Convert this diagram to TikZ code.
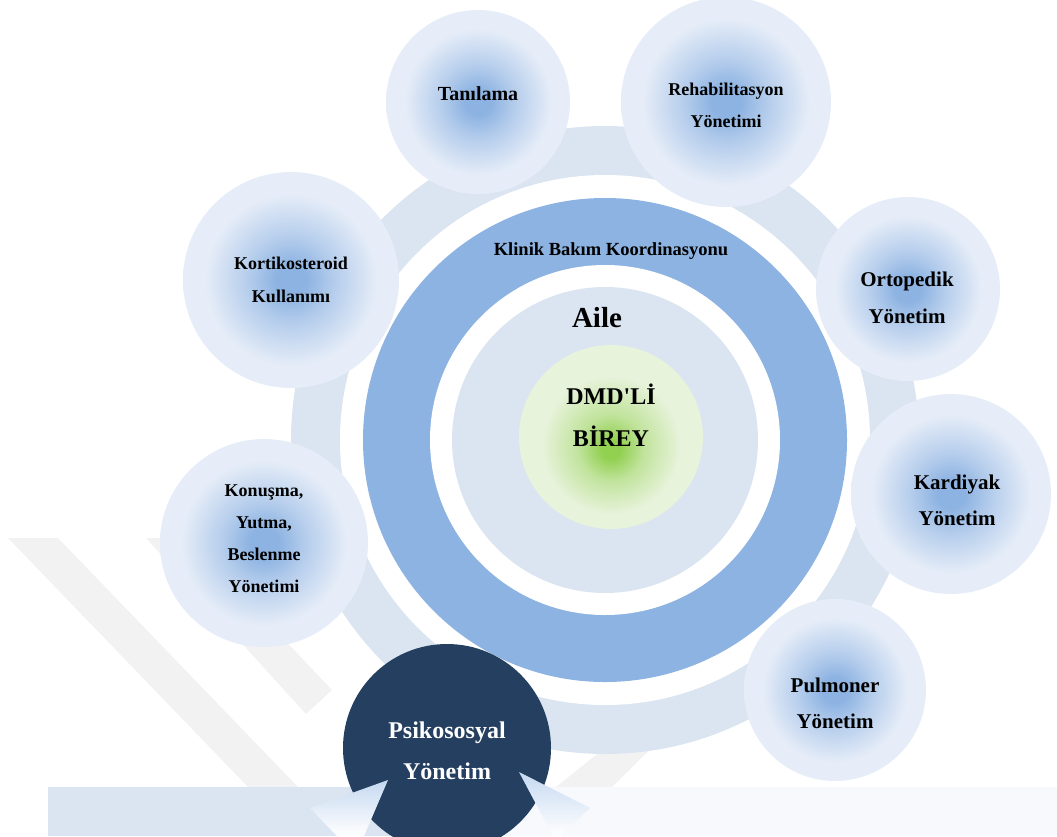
\documentclass[tikz,border=0pt]{standalone}
\usepackage{fontspec}
\setmainfont{Liberation Serif}
\definecolor{ringlight}{HTML}{DBE5F1}
\definecolor{ringblue}{HTML}{8DB3E2}
\definecolor{bubcore}{HTML}{8DB3E2}
\definecolor{bubedge}{HTML}{E6EDF8}
\definecolor{greencore}{HTML}{92D050}
\definecolor{greenedge}{HTML}{E8F3DC}
\definecolor{navy}{HTML}{243F60}
\definecolor{panelright}{HTML}{F7F9FD}
\definecolor{tipblue}{HTML}{C6D9F1}
\definecolor{wmgray}{HTML}{F2F2F2}
\pgfdeclareradialshading{bubble}{\pgfpoint{0bp}{0bp}}{color(0bp)=(bubcore); color(3.5bp)=(bubcore); color(10bp)=(bubcore!55!bubedge); color(20bp)=(bubedge); color(50bp)=(bubedge)}
\pgfdeclareradialshading{birey}{\pgfpoint{0bp}{-3.5bp}}{color(0bp)=(greencore); color(2.5bp)=(greencore); color(9bp)=(greencore!45!greenedge); color(19bp)=(greenedge); color(50bp)=(greenedge)}

\begin{document}
\begin{tikzpicture}[x=1pt, y=-1pt,
    bub/.style={circle, inner sep=0pt, shading=bubble},
    lbl/.style 2 args={align=center, font=\fontsize{#1}{#2}\selectfont\bfseries}]
        \useasboundingbox (0,0) rectangle (1057,836);
        \clip (0,0) rectangle (1057,836);

        \fill[wmgray] (8,538) -- (58,538) -- (298,787) -- (248,787) -- cycle;
        \fill[wmgray] (146,538) -- (188,538) -- (332,690) -- (306,714) -- cycle;
        \fill[wmgray] (556,787) -- (612,787) -- (682,718) -- (642,718) -- cycle;

        \coordinate (cen) at (605,440);
        \fill[ringlight] (cen) circle (314pt);
        \fill[white] (cen) circle (265pt);
        \fill[ringblue] (cen) circle (242pt);
        \fill[white] (cen) circle (175pt);
        \fill[ringlight] (cen) circle (153pt);
        \node[circle, inner sep=0pt, shading=birey, minimum size=184pt] (birey) at (611,437) {};

        \node[bub, minimum size=184pt] (tani) at (478,102) {};
        \node[bub, minimum size=210pt] (rehab) at (726,102) {};
        \node[bub, minimum size=216pt] (korti) at (291,280) {};
        \node[bub, minimum size=184pt] (orto) at (908,289) {};
        \node[bub, minimum size=200pt] (kardi) at (951,494) {};
        \node[bub, minimum size=208pt] (konus) at (264,543) {};
        \node[bub, minimum size=182pt] (pulmo) at (835,690) {};

        \fill[ringlight] (48,787) rectangle (447,836);
        \fill[panelright] (447,787) rectangle (1057,836);
        \node[circle, inner sep=0pt, fill=navy, minimum size=208pt] (psiko) at (447,748) {};
        \shade[top color=tipblue, bottom color=white] (388,780) -- (310,808) -- (337,836) -- (364,836) -- cycle;
        \shade[top color=tipblue, bottom color=white] (519,772) -- (590,808) -- (560,836) -- (553,836) -- cycle;

        \node[lbl={18.5}{22}] (klinik) at (611,251) {Klinik Bakım Koordinasyonu};
        \node[lbl={29}{34}] (aile) at (597,318) {Aile};
        \node[lbl={24}{42}] (bireytxt) at (611,415) {DMD\textquotesingle Lİ\\BİREY};
        \node[lbl={20}{24}] (tanitxt) at (478,94) {Tanılama};
        \node[lbl={18}{32}] (rehabtxt) at (726,105) {Rehabilitasyon\\Yönetimi};
        \node[lbl={18}{33}] (kortitxt) at (291,280) {Kortikosteroid\\Kullanımı};
        \node[lbl={21}{37}] (ortotxt) at (907,298) {Ortopedik\\Yönetim};
        \node[lbl={21}{36}] (karditxt) at (957,500) {Kardiyak\\Yönetim};
        \node[lbl={18}{32}] (konustxt) at (264,539) {Konuşma,\\Yutma,\\Beslenme\\Yönetimi};
        \node[lbl={21}{36}] (pulmotxt) at (835,703) {Pulmoner\\Yönetim};
        \node[lbl={24}{41}, text=white] (psikotxt) at (447,751) {Psikososyal\\Yönetim};
    \end{tikzpicture}
\end{document}
